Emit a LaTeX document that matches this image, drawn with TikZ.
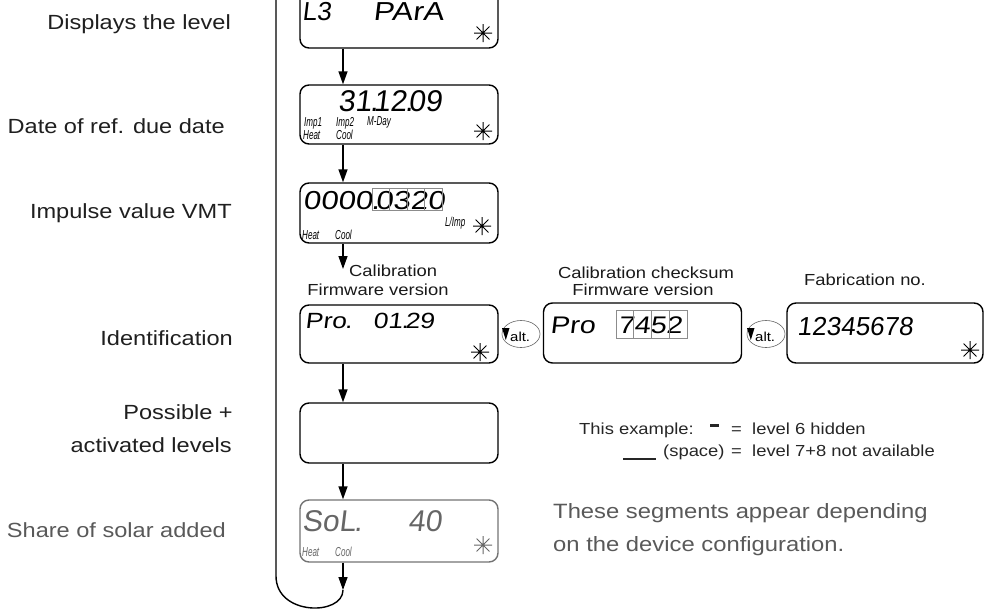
\documentclass[tikz,border=0pt]{standalone}
\usepackage{fontspec}
\setmainfont{Liberation Sans}
\newfontfamily\labf[FakeStretch=1.15]{Liberation Sans}
\newfontfamily\lcdA[FakeSlant=0.12]{Liberation Sans}
\newfontfamily\lcdW[FakeSlant=0.12,FakeStretch=1.2]{Liberation Sans}
\newfontfamily\segf[FakeStretch=0.62]{Liberation Sans}
\usetikzlibrary{arrows.meta,shapes.geometric}
\newcommand\lcddot{\kern-0.06em.\kern-0.16em}
\tikzset{
  lcdbox/.style={draw, line width=1.4pt, rounded corners=9pt, minimum width=198pt, minimum height=60pt, inner sep=0pt},
  arr/.style={line width=1.4pt, -{Triangle[length=13pt,width=9pt]}},
  plainline/.style={line width=1.4pt},
  sidelab/.style={font=\fontsize{20.5}{24}\labf, text=black!88, anchor=base east, inner sep=0pt},
  captxt/.style={font=\fontsize{16}{19}\labf, text=black!90, inner sep=0pt, anchor=base},
  lcdtxt/.style={inner sep=0pt, anchor=base west, text depth=0pt},
  segtxt/.style={font=\fontsize{13}{14}\segf\itshape, inner sep=0pt, anchor=base west, text depth=0pt, text height=9pt},
  cellbox/.style={draw=black!45, line width=0.6pt},
  altell/.style={draw=black!60, line width=0.6pt, ellipse, minimum width=38pt, minimum height=27pt, inner sep=0pt},
  lcdstar/.pic={\draw[line width=1pt] (-9,0)--(9,0) (0,-9)--(0,9) (-6.4,-6.4)--(6.4,6.4) (-6.4,6.4)--(6.4,-6.4);}
}
\begin{document}
\begin{tikzpicture}[x=1pt,y=-1pt]
\useasboundingbox (0,0) rectangle (991,611);
\clip (0,0) rectangle (991,611);

% boxes
\node[lcdbox, minimum height=58pt] (b1) at (399,19) {};
\node[lcdbox, minimum height=59pt] (b2) at (399,114.5) {};
\node[lcdbox] (b3) at (399,213) {};
\node[lcdbox, minimum height=58pt] (b4) at (399,334) {};
\node[lcdbox] (b5) at (399,433) {};
\node[lcdbox, draw=black!55, minimum height=62pt] (b6) at (399,531) {};
\node[lcdbox] (b7) at (642.5,333) {};
\node[lcdbox, minimum width=196pt] (b8) at (885,333) {};

% connectors
\coordinate (ax) at (343,0);
\coordinate (c3) at (343,269);
\coordinate (c6) at (343,590);
\coordinate (top) at (276,-5);
\draw[arr] (b1.south -| ax) -- (b2.north -| ax);
\draw[arr] (b2.south -| ax) -- (b3.north -| ax);
\draw[arr] (b3.south -| ax) -- (c3);
\draw[arr] (b4.south -| ax) -- (b5.north -| ax);
\draw[arr] (b5.south -| ax) -- (b6.north -| ax);
\draw[arr] (b6.south -| ax) -- (c6);
\draw[plainline] (c6) .. controls (343,616) and (276,616) .. (276,576) -- (top);

% left labels
\node[sidelab] (l1) at (231,29) {Displays the level};
\node[sidelab] (l2) at (225,133) {Date of ref. due date};
\node[sidelab] (l3) at (232,218) {Impulse value VMT};
\node[sidelab] (l4) at (233,345) {Identification};
\node[sidelab] (l5) at (233,419) {Possible +};
\node[sidelab] (l6) at (232,452) {activated levels};
\node[sidelab, text=black!65] (l7) at (226,537) {Share of solar added};

% captions
\node[captxt, anchor=base west] (k1) at (349,276) {Calibration};
\node[captxt] (k2) at (378,295) {Firmware version};
\node[captxt] (k3) at (646,278) {Calibration checksum};
\node[captxt] (k4) at (643,295) {Firmware version};
\node[captxt] (k5) at (865,285) {Fabrication no.};

% LCD texts
\node[lcdtxt, font=\fontsize{26}{26}\lcdA] (t1a) at (302,20) {L3};
\node[lcdtxt, font=\fontsize{26}{26}\lcdW] (t1b) at (373,20) {PArA};
\pic at (483,33) {lcdstar};

\node[lcdtxt, font=\fontsize{30}{30}\lcdA] (t2) at (338,111) {31\lcddot12\lcddot09};
\node[segtxt] (s1) at (304,126) {Imp1};
\node[segtxt] (s2) at (303,139) {Heat};
\node[segtxt] (s3) at (336,126) {Imp2};
\node[segtxt] (s4) at (336,139) {Cool};
\node[segtxt] (s5) at (367,125) {M-Day};
\pic at (483,131) {lcdstar};

\node[lcdtxt, font=\fontsize{26}{26}\lcdW] (t3) at (303,209) {0000\lcddot0320};
\foreach \k in {0,1,2,3} \draw[cellbox] (372+17.5*\k,188) rectangle +(17.5,22);
\node[segtxt] (s6) at (445,226) {L/Imp};
\node[segtxt] (s7) at (302,239) {Heat};
\node[segtxt] (s8) at (335,239) {Cool};
\pic at (482,226) {lcdstar};

\node[lcdtxt, font=\fontsize{22}{22}\lcdW] (t4a) at (305,328) {Pro\lcddot};
\node[lcdtxt, font=\fontsize{22}{22}\lcdW] (t4b) at (373,328) {01\lcddot29};
\pic at (480,352) {lcdstar};

\node[lcdtxt, font=\fontsize{24}{24}\lcdW] (t7a) at (550,333) {Pro};
\node[lcdtxt, font=\fontsize{24}{24}\lcdW] (t7b) at (618,333) {7452};
\foreach \k in {0,1,2,3} \draw[cellbox] (616+17.75*\k,310) rectangle +(17.75,28);

\node[lcdtxt, font=\fontsize{26}{26}\lcdA] (t8) at (797,335) {12345678};
\pic at (970,350) {lcdstar};

\node[lcdtxt, font=\fontsize{30}{30}\lcdA, text=black!60] (t6a) at (302,531) {SoL\lcddot};
\node[lcdtxt, font=\fontsize{30}{30}\lcdA, text=black!60] (t6b) at (408,531) {40};
\node[segtxt, text=black!60] (s9) at (302,556) {Heat};
\node[segtxt, text=black!60] (s10) at (335,556) {Cool};
\begin{scope}[draw=black!60]
\pic[draw=black!60] at (483,545) {lcdstar};
\end{scope}

% alt markers
\node[altell] (e1) at (521,334) {};
\fill (502,328) -- (509.5,328) -- (505.8,340) -- cycle;
\node[lcdtxt, font=\fontsize{13}{14}\labf] (a1) at (510,341) {alt.};
\node[altell] (e2) at (766,334) {};
\fill (747,328) -- (754.5,328) -- (750.8,340) -- cycle;
\node[lcdtxt, font=\fontsize{13}{14}\labf] (a2) at (755,341) {alt.};

% legend
\node[captxt, anchor=base west, text=black!85] (x1) at (579,434) {This example:};
\fill[black!85] (710,424) rectangle (719,427);
\node[captxt, anchor=base west, text=black!85] (x2) at (731,434) {=};
\node[captxt, anchor=base west, text=black!85] (x3) at (752,434) {level 6 hidden};
\fill[black!85] (623,457.5) rectangle (656,460);
\node[captxt, anchor=base west, text=black!85] (x4) at (663,456) {(space)};
\node[captxt, anchor=base west, text=black!85] (x5) at (731,456) {=};
\node[captxt, anchor=base west, text=black!85] (x6) at (752,456) {level 7+8 not available};

\node[anchor=base west, inner sep=0pt, font=\fontsize{20.7}{24}\labf, text=black!65] (n1) at (553,518) {These segments appear depending};
\node[anchor=base west, inner sep=0pt, font=\fontsize{20.7}{24}\labf, text=black!65] (n2) at (553,551) {on the device configuration.};
\end{tikzpicture}
\end{document}
